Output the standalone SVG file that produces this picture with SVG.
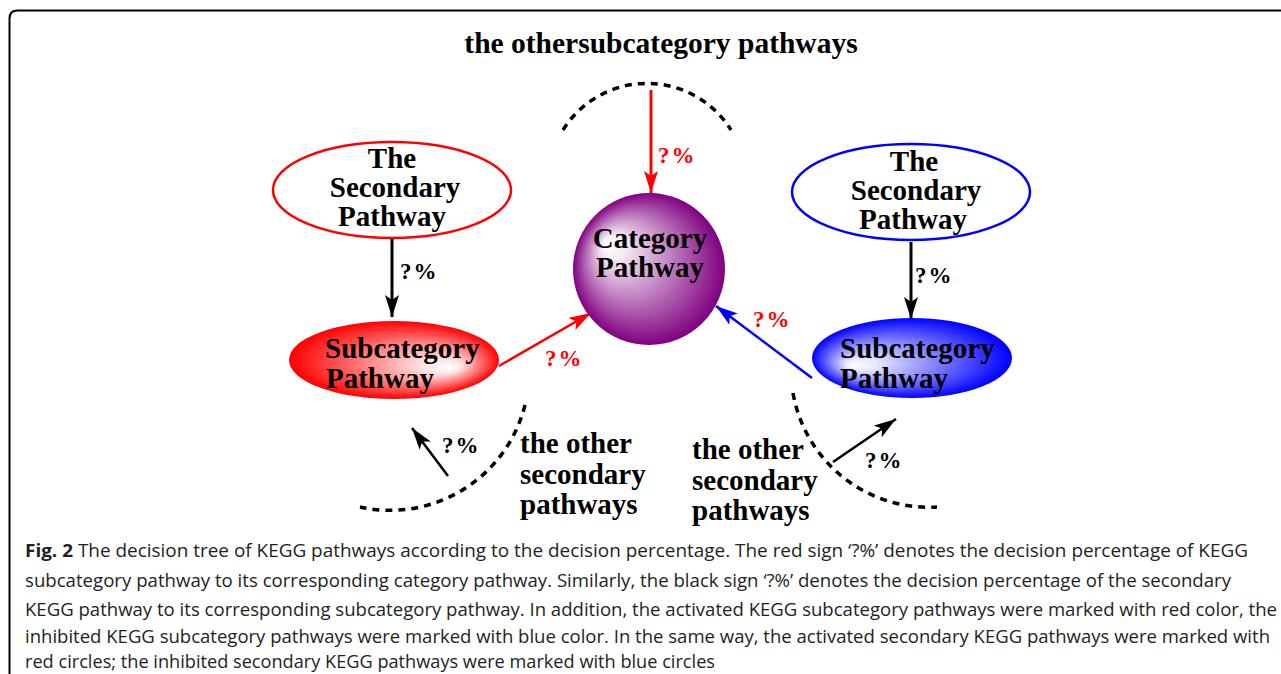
<svg xmlns="http://www.w3.org/2000/svg" width="1281" height="674" viewBox="0 0 1281 674">
<style>
.t{font-family:"Liberation Serif","Times New Roman",serif;font-weight:bold;font-size:29px;fill:#000}
.c{text-anchor:middle}
.p{font-family:"Liberation Serif","Times New Roman",serif;font-weight:bold;font-size:23px;letter-spacing:2px}
.cap{font-family:"Open Sans","Liberation Sans",sans-serif;font-size:18px;fill:#231f20}
.dash{fill:none;stroke:#000;stroke-width:3.5;stroke-dasharray:7 6}
</style>
<defs>
<marker id="ahR" markerUnits="userSpaceOnUse" markerWidth="24" markerHeight="14" refX="22" refY="7" orient="auto"><path d="M0,0 L22,7 L0,14 L5,7 z" fill="#ff0000"/></marker>
<marker id="ahK" markerUnits="userSpaceOnUse" markerWidth="24" markerHeight="14" refX="22" refY="7" orient="auto"><path d="M0,0 L22,7 L0,14 L5,7 z" fill="#000"/></marker>
<marker id="ahB" markerUnits="userSpaceOnUse" markerWidth="24" markerHeight="14" refX="22" refY="7" orient="auto"><path d="M0,0 L22,7 L0,14 L5,7 z" fill="#0000ff"/></marker>
<radialGradient id="gP" cx="0.5" cy="0.5" r="0.5" fx="0.22" fy="0.33"><stop offset="0" stop-color="#fff"/><stop offset="0.15" stop-color="#f6ecf6"/><stop offset="1" stop-color="#800080"/></radialGradient>
<radialGradient id="gR" cx="0.5" cy="0.5" r="0.5" fx="0.78" fy="0.6"><stop offset="0" stop-color="#fff"/><stop offset="0.2" stop-color="#ffe0e0"/><stop offset="1" stop-color="#ff0000"/></radialGradient>
<radialGradient id="gB" cx="0.5" cy="0.5" r="0.5" fx="0.2" fy="0.6"><stop offset="0" stop-color="#fff"/><stop offset="0.15" stop-color="#e8e8ff"/><stop offset="1" stop-color="#0000ff"/></radialGradient>
</defs>
<rect width="1281" height="674" fill="#fff"/>
<path d="M9.5 674 V18.5 Q9.5 10.5 17.5 10.5 H1281" fill="none" stroke="#000" stroke-width="2"/>
<text class="t c" x="661" y="53" style="font-size:29.5px">the othersubcategory pathways</text>
<g id="arcs">
<path class="dash" d="M563 130 A99 99 0 0 1 731 130"/>
<path class="dash" d="M525 405 A139 139 0 0 1 360 507"/>
<path class="dash" d="M793 393 A138 138 0 0 0 937 507"/>
</g>
<g id="connectors">
<line x1="651" y1="90" x2="651" y2="193" stroke="#ff0000" stroke-width="3" marker-end="url(#ahR)"/>
<line x1="392" y1="238" x2="392" y2="317" stroke="#000" stroke-width="3" marker-end="url(#ahK)"/>
<line x1="911" y1="242" x2="911" y2="319" stroke="#000" stroke-width="3" marker-end="url(#ahK)"/>
<line x1="499" y1="366" x2="591" y2="313" stroke="#ff0000" stroke-width="2.5" marker-end="url(#ahR)"/>
<line x1="812" y1="378" x2="716" y2="306" stroke="#0000ff" stroke-width="2.5" marker-end="url(#ahB)"/>
<line x1="448" y1="476" x2="412" y2="428" stroke="#000" stroke-width="2.5" marker-end="url(#ahK)"/>
<line x1="833" y1="462" x2="896" y2="419" stroke="#000" stroke-width="2.5" marker-end="url(#ahK)"/>
<text class="p" x="658" y="163" fill="#ff0000">?%</text>
<text class="p" x="400" y="279" fill="#000">?%</text>
<text class="p" x="915" y="283" fill="#000">?%</text>
<text class="p" x="545" y="366" fill="#ff0000">?%</text>
<text class="p" x="753" y="327" fill="#ff0000">?%</text>
<text class="p" x="442" y="453" fill="#000">?%</text>
<text class="p" x="865" y="468" fill="#000">?%</text>
</g>
<g id="category">
<circle cx="649" cy="269" r="76" fill="url(#gP)"/>
<text class="t c" x="650" y="248">Category</text>
<text class="t c" x="650" y="277">Pathway</text>
</g>
<g id="secondaryLeft">
<ellipse cx="392" cy="190" rx="119" ry="48" fill="#fff" stroke="#ff0000" stroke-width="2.5"/>
<text class="t c" x="392" y="168">The</text>
<text class="t c" x="395" y="197">Secondary</text>
<text class="t c" x="392" y="226">Pathway</text>
</g>
<g id="secondaryRight">
<ellipse cx="911" cy="192" rx="119" ry="48" fill="#fff" stroke="#0000ff" stroke-width="2.5"/>
<text class="t c" x="914" y="171">The</text>
<text class="t c" x="916" y="200">Secondary</text>
<text class="t c" x="913" y="229">Pathway</text>
</g>
<g id="subLeft">
<ellipse cx="394" cy="360" rx="105" ry="39" fill="url(#gR)"/>
<text class="t" x="325" y="358">Subcategory</text>
<text class="t" x="326" y="388">Pathway</text>
</g>
<g id="subRight">
<ellipse cx="912" cy="358" rx="100" ry="40" fill="url(#gB)"/>
<text class="t" x="840" y="358">Subcategory</text>
<text class="t" x="840" y="388">Pathway</text>
</g>
<g id="otherLeft">
<text class="t" x="520" y="453">the other</text>
<text class="t" x="520" y="484">secondary</text>
<text class="t" x="520" y="514">pathways</text>
</g>
<g id="otherRight">
<text class="t" x="692" y="459">the other</text>
<text class="t" x="692" y="490">secondary</text>
<text class="t" x="692" y="520">pathways</text>
</g>
<g id="caption">
<text class="cap" x="25" y="557" textLength="1223" lengthAdjust="spacingAndGlyphs"><tspan font-weight="bold">Fig. 2</tspan> The decision tree of KEGG pathways according to the decision percentage. The red sign ‘?%’ denotes the decision percentage of KEGG</text>
<text class="cap" x="25" y="587" textLength="1206" lengthAdjust="spacingAndGlyphs">subcategory pathway to its corresponding category pathway. Similarly, the black sign ‘?%’ denotes the decision percentage of the secondary</text>
<text class="cap" x="25" y="616" textLength="1252" lengthAdjust="spacingAndGlyphs">KEGG pathway to its corresponding subcategory pathway. In addition, the activated KEGG subcategory pathways were marked with red color, the</text>
<text class="cap" x="25" y="643" textLength="1245" lengthAdjust="spacingAndGlyphs">inhibited KEGG subcategory pathways were marked with blue color. In the same way, the activated secondary KEGG pathways were marked with</text>
<text class="cap" x="25" y="668" textLength="690" lengthAdjust="spacingAndGlyphs">red circles; the inhibited secondary KEGG pathways were marked with blue circles</text>
</g>
</svg>
